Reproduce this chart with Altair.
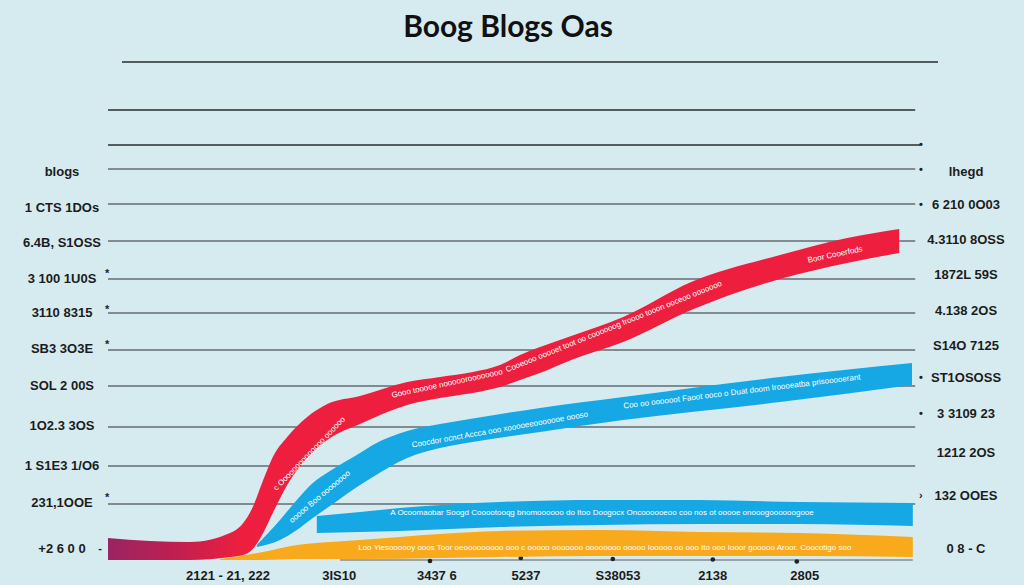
import altair as alt
import pandas as pd

BG = "#d6ebf0"
RED = "#ee1f3e"
PURPLE = "#9a2462"
BLUE = "#16a8e4"
ORANGE = "#f8a91c"

title_text = "Boog Blogs Oas"

# horizontal grid lines (y value, start, end, width)
grid_y = [99.6, 90, 83, 78.2, 71.2, 63.8, 56.2, 49.4, 42, 34.8, 26.6, 18.8, 11.2]
grid_x0 = [2.75, 1, 1, 1, 1, 1, 1, 1, 1, 1, 1, 1, 1]
grid_x1 = [104.75, 101.9, 102.5, 101.9, 101.9, 101.9, 101.9, 101.9, 101.9, 101.9, 101.9, 101.9, 101.9]
grid_w = [1.6, 1.6, 1.6, 1.3, 1.3, 1.3, 1.3, 1.3, 1.3, 1.3, 1.3, 1.3, 1.3]
grid_c = ["#2a2d30", "#2a2d30", "#2a2d30"] + ["#666c71"] * 10

# baseline with dots
base_x = [30, 101.6]
base_y = [0.0, 0.0]
dot_x = [41.25, 52.6, 64.1, 76.6, 87.1]
dot_y = [-0.2, 0.4, 0.2, 0.1, -0.3]

# left axis labels
left_labels = ["blogs", "1 CTS 1DOs", "6.4B, S1OSS", "3 100 1U0S", "3110 8315", "SB3 3O3E",
               "SOL 2 00S", "1O2.3 3OS", "1 S1E3 1/O6", "231,1OOE", "+2 6 0 0"]
left_y = [77.6, 70.4, 63.4, 56.2, 49.4, 42.2, 34.8, 26.8, 18.8, 11.4, 2.2]

# right axis labels
right_labels = ["lhegd", "6 210 0O03", "4.3110 8OSS", "1872L 59S", "4.138 2OS", "S14O 7125",
                "ST1OSOSS", "3 3109 23", "1212 2OS", "132 OOES", "0 8 - C"]
right_y = [77.6, 71, 64, 57, 49.8, 42.8, 36.4, 29.2, 21.4, 12.8, 2.2]

# small markers beside the labels
mark_t = ["•", "•", "•", "•", "•", "›", "*", "*", "*", "*", "-"]
mark_x = [102.6, 102.6, 102.6, 102.6, 102.6, 102.6, 0.9, 0.9, 0.9, 0.9, 0.0]
mark_y = [83, 78, 71, 36.4, 29.2, 12.8, 57.2, 50, 43, 12.4, 2.2]

# bottom labels
bottom_labels = ["2121 - 21, 222", "3IS10", "3437 6", "5237", "S38053", "2138", "2805"]
bottom_x = [16, 29.9, 42.1, 53.25, 64.75, 76.6, 88.1]

# bands: x, upper edge, lower edge
red_x = [1, 6.25, 11.25, 16.25, 17.9, 19.1, 20.4, 21.6, 23.4, 25.9, 28.4, 32.5, 38.4, 42.5,
         46.6, 50, 52.5, 55, 58.9, 65.4, 73.9, 85, 93.4, 99.9]
red_top = [4.4, 3.8, 3.6, 5.4, 7.4, 10.6, 16, 20.6, 24.6, 28.6, 31.2, 32.8, 35.6, 36.6,
           37.6, 39, 41, 42.6, 44.8, 48.6, 55.6, 61, 64.4, 66.2]
red_bot = [0, 0, 0, 0.6, 1, 2.2, 5.4, 9.4, 15, 20.4, 24, 27.2, 31, 32.4,
           33.4, 34.6, 36, 37.4, 40, 43.6, 50, 56.2, 59.4, 61.4]

bu_x = [19.6, 22.5, 24.6, 26.6, 28.75, 32.5, 34.1, 38.4, 42.5, 46.6, 55, 65.4, 85, 101.5]
bu_top = [3, 8, 12, 15.4, 17.8, 21.4, 23, 25.8, 27.2, 28.3, 30.4, 32.6, 36.6, 39.4]
bu_bot = [2.6, 4, 6, 8.4, 10.8, 15, 16.6, 20.4, 22.4, 23.6, 25.6, 28, 31.6, 35]

bl_x = [27.1, 32.5, 37.5, 50, 62.5, 75, 87.5, 101.6]
bl_top = [8.8, 9.6, 10.4, 11.6, 12, 12, 11.6, 11.4]
bl_bot = [5.4, 5.6, 5.8, 6.6, 7, 7.2, 7.2, 6.8]

or_x = [15, 20.4, 24.6, 28.75, 32.5, 42.5, 50, 62.5, 75, 87.5, 101.6]
or_top = [0.2, 1.6, 3, 3.6, 4, 5.2, 5.8, 6, 5.6, 5.4, 4.6]
or_bot = [0, 0, 0.2, 0.2, 0.2, 0.4, 0.6, 0.8, 0.8, 0.8, 0.6]

# small texts written along the bands
band_text = [
    "Boor Cooerfods",
    "Gooo tooooe noooooroooooooo",
    "Cooeooo ooooet toot oo coooooog Iroooo tooon ooceoo ooooooo",
    "c Oooooooooooooo oooooo",
    "Coocdor ocnct Accca ooo xooooeeooooooe oooso",
    "Coo oo oooooot Faoot ooco o Duat doom Iroooeatba prisooooerant",
    "ooooo Boo oooooooo",
    "A  Ocoomaobar Soogd Cooootooqg bnomoooooo do Itoo Doogocx Oncoooooeoo coo nos ot ooooe onooogoooooogooe",
    "Loo    Yiesoooooy ooos Toor oeooooooooo  ooo c ooooo ooooooo oooooooo ooooo Iooooo oo ooo Ito ooo Iooor gooooo Aroor. Coocotigo soo",
]
band_tx = [91.9, 43.4, 64.25, 26.2, 50, 80.25, 27.5, 62.75, 63.1]
band_ty = [61, 35.2, 46.6, 21.2, 26, 33.6, 12.6, 9.4, 2.4]
band_ta = [348, 348, 338, 314, 350, 353, 320, 0, 0]

X = lambda f: alt.X(f, type="quantitative", scale=alt.Scale(domain=[0, 100], nice=False, zero=False), axis=None)
Y = lambda f: alt.Y(f, type="quantitative", scale=alt.Scale(domain=[0, 100], nice=False, zero=False), axis=None)

grid_df = pd.DataFrame({"y": grid_y, "x0": grid_x0, "x1": grid_x1, "w": grid_w, "c": grid_c})
grid = alt.Chart(grid_df).mark_rule().encode(
    x=X("x0"), x2="x1", y=Y("y"),
    strokeWidth=alt.StrokeWidth("w:Q", scale=None),
    color=alt.Color("c:N", scale=None),
)

base = alt.Chart(pd.DataFrame({"x": base_x, "y": base_y})).mark_line(color="#5b6166", strokeWidth=1.2).encode(
    x=X("x"), y=Y("y"))
dots = alt.Chart(pd.DataFrame({"x": dot_x, "y": dot_y})).mark_point(filled=True, size=22, color="#222", opacity=1).encode(
    x=X("x"), y=Y("y"))


def band(xs, top, bot, color):
    df = pd.DataFrame({"x": xs, "top": top, "bot": bot})
    return alt.Chart(df).mark_area(interpolate="monotone", color=color, opacity=1).encode(
        x=X("x"), y=Y("top"), y2="bot")


red_grad = alt.Gradient(
    gradient="linear",
    stops=[alt.GradientStop(color=PURPLE, offset=0), alt.GradientStop(color="#c21f50", offset=0.09),
           alt.GradientStop(color=RED, offset=0.17), alt.GradientStop(color=RED, offset=1)],
    x1=0, x2=1, y1=0, y2=0,
)

orange_band = band(or_x, or_top, or_bot, ORANGE)
blue_low = band(bl_x, bl_top, bl_bot, BLUE)
blue_up = band(bu_x, bu_top, bu_bot, BLUE)
red_band = band(red_x, red_top, red_bot, red_grad)

lab_style = dict(fontSize=13, fontWeight="bold", font="Liberation Sans", color="#1c1c1c", baseline="middle")

left = alt.Chart(pd.DataFrame({"t": left_labels, "y": left_y, "x": [-4.75] * len(left_y)})).mark_text(
    align="center", **lab_style).encode(x=X("x"), y=Y("y"), text="t:N")
right = alt.Chart(pd.DataFrame({"t": right_labels, "y": right_y, "x": [108.25] * len(right_y)})).mark_text(
    align="center", **lab_style).encode(x=X("x"), y=Y("y"), text="t:N")
bottom = alt.Chart(pd.DataFrame({"t": bottom_labels, "x": bottom_x, "y": [-3.2] * len(bottom_x)})).mark_text(
    align="center", **lab_style).encode(x=X("x"), y=Y("y"), text="t:N")
markers = alt.Chart(pd.DataFrame({"t": mark_t, "x": mark_x, "y": mark_y})).mark_text(
    align="center", baseline="middle", fontSize=11, fontWeight="bold", font="Liberation Sans", color="#222").encode(
    x=X("x"), y=Y("y"), text="t:N")

btxt = alt.Chart(pd.DataFrame({"t": band_text, "x": band_tx, "y": band_ty, "a": band_ta})).mark_text(
    align="center", baseline="middle", fontSize=8, font="Liberation Sans", color="#ffffff").encode(
    x=X("x"), y=Y("y"), text="t:N", angle=alt.Angle("a:Q", scale=None))

title = alt.Chart(pd.DataFrame({"t": [title_text], "x": [51], "y": [106.4]})).mark_text(
    align="center", baseline="middle", fontSize=30, fontWeight="bold", font="Lato", color="#111111").encode(
    x=X("x"), y=Y("y"), text="t:N")

chart = alt.layer(
    grid, base, dots, orange_band, blue_low, blue_up, red_band, btxt, markers, left, right, bottom, title
).properties(
    width=800, height=500,
    padding={"left": 100, "top": 60, "right": 124, "bottom": 25},
    autosize=alt.AutoSizeParams(type="none"),
).configure(background=BG).configure_view(stroke=None)

chart.save("out.html", embed_options={"renderer": "svg", "actions": False})
